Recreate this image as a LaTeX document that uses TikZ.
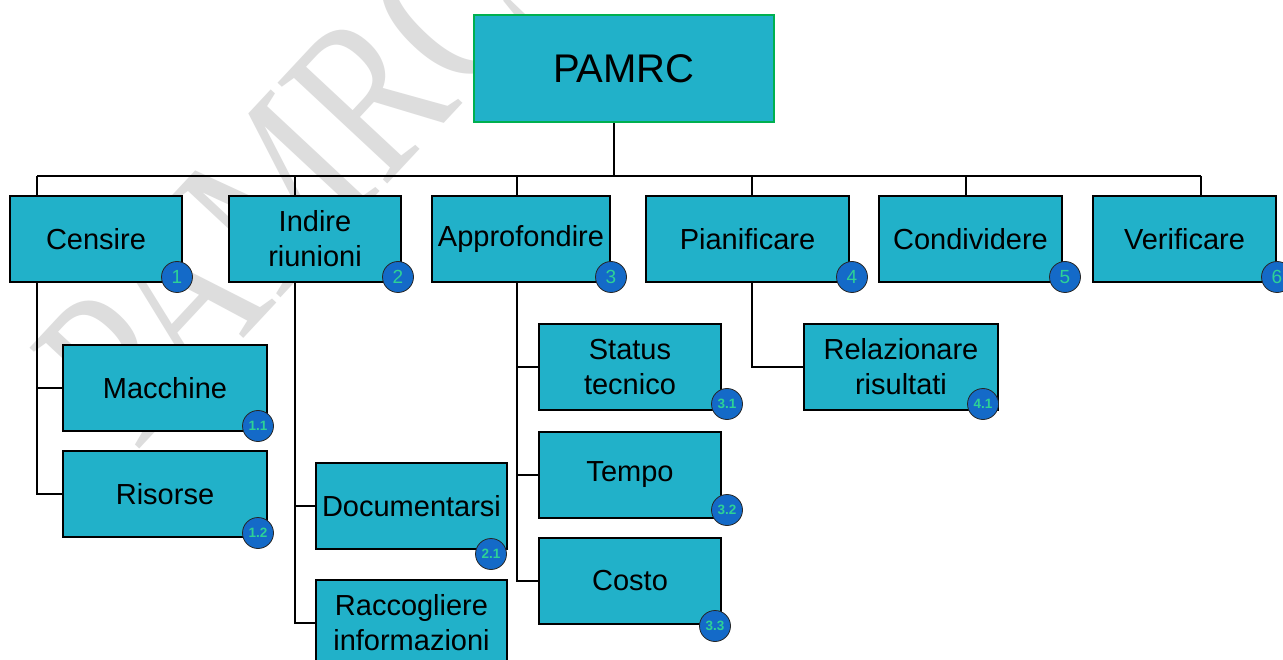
\documentclass[tikz,border=0pt]{standalone}
\usepackage{fontspec}
\setmainfont{Liberation Sans}
\newfontfamily\wmfont{Liberation Serif}
\usetikzlibrary{backgrounds}
\definecolor{boxc}{RGB}{33,177,201}
\definecolor{rootborder}{RGB}{0,176,80}
\definecolor{badgec}{RGB}{20,106,200}
\definecolor{badgetext}{RGB}{45,210,150}
\definecolor{wmgray}{RGB}{221,221,221}
\begin{document}
\begin{tikzpicture}[x=1pt,y=-1pt,
  wbox/.style={draw=black, line width=1.8pt, fill=boxc, inner sep=0pt, outer sep=0pt,
    anchor=north west, align=center, font=\fontsize{29}{35}\selectfont},
  rootbox/.style={wbox, draw=rootborder, font=\fontsize{40}{48}\selectfont},
  badge/.style={circle, draw=black!85, line width=0.8pt, fill=badgec, minimum size=31pt,
    inner sep=0pt, text=badgetext, font=\fontsize{19}{19}\selectfont},
  sbadge/.style={badge, font=\bfseries\fontsize{13.5}{13.5}\selectfont},
  conn/.style={draw=black, line width=2pt},
  wmark/.style={text=wmgray, font=\wmfont\fontsize{175}{175}\selectfont, inner sep=0pt}
]
\clip (0,0) rectangle (1283,660);

% boxes
\node[rootbox, minimum width=300pt, minimum height=107pt] (root) at (474,15) {PAMRC};
\node[wbox, minimum width=172pt, minimum height=86pt] (c1) at (10,196) {Censire};
\node[wbox, minimum width=172pt, minimum height=86pt] (c2) at (229,196) {Indire\\riunioni};
\node[wbox, minimum width=178pt, minimum height=86pt] (c3) at (432,196) {Approfondire};
\node[wbox, minimum width=203pt, minimum height=86pt] (c4) at (646,196) {Pianificare};
\node[wbox, minimum width=183pt, minimum height=86pt] (c5) at (879,196) {Condividere};
\node[wbox, minimum width=183pt, minimum height=86pt] (c6) at (1093,196) {Verificare};
\node[wbox, minimum width=204pt, minimum height=86pt] (c11) at (63,345) {Macchine};
\node[wbox, minimum width=204pt, minimum height=86pt] (c12) at (63,451) {Risorse};
\node[wbox, minimum width=191pt, minimum height=86pt] (c21) at (316,463) {Documentarsi};
\node[wbox, minimum width=191pt, minimum height=86pt] (c22) at (316,580) {Raccogliere\\informazioni};
\node[wbox, minimum width=182pt, minimum height=86pt] (c31) at (539,324) {Status\\tecnico};
\node[wbox, minimum width=182pt, minimum height=86pt] (c32) at (539,432) {Tempo};
\node[wbox, minimum width=182pt, minimum height=86pt] (c33) at (539,538) {Costo};
\node[wbox, minimum width=194pt, minimum height=86pt] (c41) at (804,324) {Relazionare\\risultati};

% badges
\node[badge] (n1) at (177,277) {1};
\node[badge] (n2) at (398,277) {2};
\node[badge] (n3) at (611,277) {3};
\node[badge] (n4) at (852,277) {4};
\node[badge] (n5) at (1065,277) {5};
\node[badge] (n6) at (1277,277) {6};
\node[sbadge] (n11) at (258,426) {1.1};
\node[sbadge] (n12) at (258,533) {1.2};
\node[sbadge] (n21) at (491,554) {2.1};
\node[sbadge] (n31) at (727,404) {3.1};
\node[sbadge] (n32) at (727,510) {3.2};
\node[sbadge] (n33) at (715,626) {3.3};
\node[sbadge] (n41) at (983,404) {4.1};

% bus coordinates
\coordinate (bus) at (614,176);
\coordinate (b1) at (37,176);
\coordinate (b2) at (295,176);
\coordinate (b3) at (517,176);
\coordinate (b4) at (752,176);
\coordinate (b5) at (966,176);
\coordinate (b6) at (1201,176);

\begin{pgfonlayer}{background}
\fill[white] (0,0) rectangle (1283,660);
\node[wmark, rotate=47, yscale=1.3] (wm) at (285,185) {PAMRC};
\draw[conn] (root.south -| bus) -- (bus);
\draw[conn] (b1) -- (b6);
\draw[conn] (b1) -- (b1 |- c1.north);
\draw[conn] (b2) -- (b2 |- c2.north);
\draw[conn] (b3) -- (b3 |- c3.north);
\draw[conn] (b4) -- (b4 |- c4.north);
\draw[conn] (b5) -- (b5 |- c5.north);
\draw[conn] (b6) -- (b6 |- c6.north);
\draw[conn] (b1 |- c1.south) |- (c11.west);
\draw[conn] (b1 |- c1.south) |- (c12.west);
\draw[conn] (b2 |- c2.south) |- (c21.west);
\draw[conn] (b2 |- c2.south) |- (c22.west);
\draw[conn] (b3 |- c3.south) |- (c31.west);
\draw[conn] (b3 |- c3.south) |- (c32.west);
\draw[conn] (b3 |- c3.south) |- (c33.west);
\draw[conn] (b4 |- c4.south) |- (c41.west);
\end{pgfonlayer}
\end{tikzpicture}
\end{document}
